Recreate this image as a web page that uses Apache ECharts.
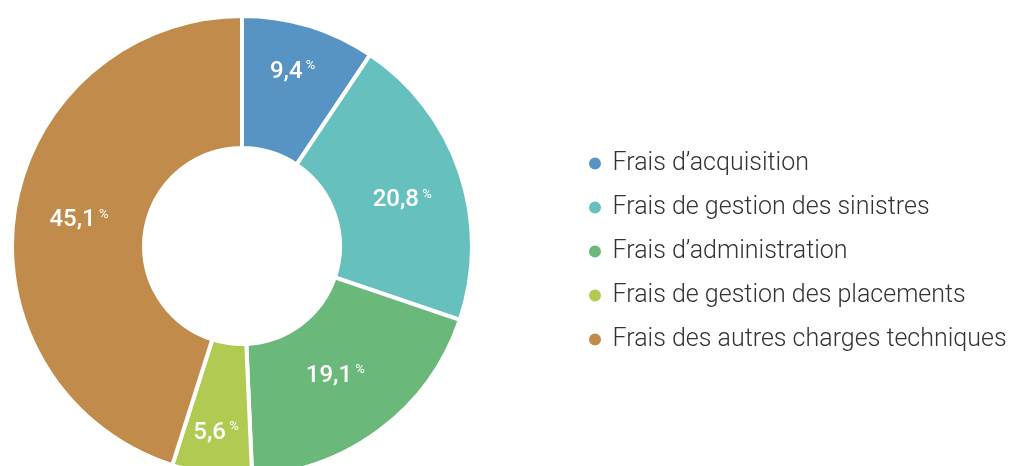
<!DOCTYPE html>
<html><head><meta charset="utf-8">
<script src="https://cdn.jsdelivr.net/npm/echarts@6/dist/echarts.min.js"></script>
<style>html,body{margin:0;padding:0;background:#fff}#c{width:1011px;height:466px}</style>
</head><body><div id="c"></div>
<script>
const categories = ["Frais d’acquisition","Frais de gestion des sinistres","Frais d’administration","Frais de gestion des placements","Frais des autres charges techniques"];
const values = [9.4, 20.8, 19.1, 5.6, 45.1];
const colors = ["#5794c4","#66c0be","#6ab87a","#b1cb52","#c18c4b"];
// per-slice label nudges (padding: top,right,bottom,left)
const labelPads = [[0,0,28,4],[16,0,0,4],[0,14,8,0],[42,8,0,0],[0,0,0,4]];

const chart = echarts.init(document.getElementById('c'));
chart.setOption({
  animation:false,
  legend:{
    orient:'vertical', left:582, top:146, itemGap:19,
    icon:'circle', itemWidth:15, itemHeight:14,
    textStyle:{fontFamily:'Roboto', fontWeight:300, fontSize:25, color:'#333', padding:[0,0,0,5]},
    data:categories
  },
  series:[{
    type:'pie', center:[242,246], radius:[98,230], startAngle:90, clockwise:true,
    itemStyle:{borderColor:'#fff', borderWidth:4},
    label:{
      position:'inside',
      formatter:(p)=>'{v|'+String(p.value).replace('.',',')+'}{p| %}',
      rich:{
        v:{fontFamily:'Roboto', fontWeight:500, fontSize:24, color:'#fff'},
        p:{fontFamily:'Roboto', fontSize:13, color:'#fff', verticalAlign:'top', padding:[0,0,12,0]}
      }
    },
    labelLine:{show:false},
    emphasis:{disabled:true},
    data:categories.map((n,i)=>({name:n, value:values[i], itemStyle:{color:colors[i]}, label:{padding:labelPads[i]}}))
  }]
});
</script></body></html>
